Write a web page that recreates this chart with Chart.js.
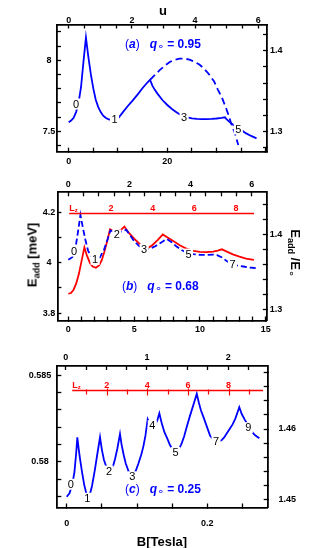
<!DOCTYPE html>
<html><head><meta charset="utf-8">
<script src="https://cdn.jsdelivr.net/npm/chart.js@4/dist/chart.umd.min.js"></script>
<style>
html,body{margin:0;padding:0;background:#fff;}
body{width:327px;height:548px;position:relative;overflow:hidden;font-family:"Liberation Sans",Arial,Helvetica,sans-serif;}
canvas{position:absolute;left:0;display:block;}
.t{position:absolute;white-space:nowrap;font-weight:bold;color:#000;font-size:13px;line-height:15px;}
.rot{transform:translate(-50%,-50%) rotate(-90deg);}
.rotr{transform:translate(-50%,-50%) rotate(90deg);}
.ctr{transform:translate(-50%,-50%);}
.t sub{font-size:9px;vertical-align:-3px;line-height:0;}
.t .ring{font-family:"DejaVu Sans";font-size:11px;font-weight:normal;}
.cap{position:absolute;white-space:nowrap;color:#0000ff;font-size:12px;font-weight:bold;line-height:14px;}
.cap .p{font-weight:normal;}
.cap .o{font-family:"DejaVu Sans";font-size:11px;font-weight:normal;vertical-align:-2px;}
</style></head><body>
<canvas id="ca" width="327" height="172" style="top:0"></canvas>
<canvas id="cb" width="327" height="173" style="top:172px"></canvas>
<canvas id="cc" width="327" height="203" style="top:345px"></canvas>

<div class="t ctr" style="left:163px;top:10px;">u</div>
<div class="t ctr" style="left:162px;top:541px;">B[Tesla]</div>
<div class="t rot" style="left:32px;top:255px;">E<sub>add</sub> [meV]</div>
<div class="t rotr" style="left:295px;top:253px;">E<sub>add</sub> /E<sub class="ring">∘</sub></div>

<div class="cap" style="left:125px;top:37px;"><span class="p">(</span><i>a</i><span class="p">)</span>&nbsp;&nbsp;&nbsp;<i>q</i><span class="o">∘</span> = 0.95</div>
<div class="cap" style="left:122px;top:279px;"><span class="p">(</span><i>b</i><span class="p">)</span>&nbsp;&nbsp;&nbsp;<i>q</i><span class="o">∘</span> = 0.68</div>
<div class="cap" style="left:125px;top:482px;"><span class="p">(</span><i>c</i><span class="p">)</span>&nbsp;&nbsp;&nbsp;<i>q</i><span class="o">∘</span> = 0.25</div>

<script>
// ---------- Panel (a): q = 0.95 ----------
const aSolidB = [0,0.5,1,1.5,2,2.5,3,3.5,4,4.5,5,5.5,6,6.5,7,7.5,8,8.5,9,9.5,10,11,12,13,14,15,16,16.5,17,17.5,18,19,20,21,22,23,24,25,26,27,28,29,30,31,31.7,32,32.5,33,34,35,36,37,38.1];
const aSolidE = [7.563,7.575,7.595,7.635,7.70,7.81,7.99,8.16,8.02,7.90,7.80,7.72,7.67,7.635,7.61,7.595,7.585,7.58,7.578,7.58,7.59,7.635,7.678,7.718,7.76,7.805,7.845,7.862,7.82,7.79,7.765,7.72,7.685,7.655,7.63,7.61,7.597,7.59,7.587,7.585,7.585,7.587,7.59,7.594,7.598,7.585,7.57,7.555,7.53,7.508,7.485,7.467,7.45];
const aDashB = [16.5,17.5,18.5,19.5,20.5,21.5,22.5,23.5,24.5,25.5,26.5,27.5,28.5,29.5,30.3,31,31.5,32,32.5,33,33.7,34.4];
const aDashE = [7.862,7.898,7.932,7.962,7.988,8.004,8.012,8.012,8.004,7.99,7.97,7.94,7.90,7.85,7.79,7.744,7.70,7.655,7.605,7.55,7.486,7.404];
const aNumText = ['0','1','3','5'];
const aNumB = [1.48,9.29,23.4,34.4];
const aNumE = [7.692,7.58,7.60,7.516];
const aBottomLabels = [0,20];
const aTopLabels = [0,2,4,6];
const aLeftLabels = [7.5,8];
const aRightLabels = [1.3,1.4];

// ---------- Panel (b): q = 0.68 ----------
const bBlueB = [0,0.3,0.5,0.7,0.92,1.1,1.3,1.5,1.7,2.0,2.4,2.7,3.0,3.2,3.5,3.8,4.1,4.4,4.7,5.0,5.4,5.8,6.2,6.6,7.0,7.48,7.8,8.2,8.6,9.0,9.5,10.0,10.5,11.0,11.3,11.7,12.0,12.4,12.8,13.3,13.8,14.3];
const bBlueE = [4.012,4.022,4.045,4.11,4.189,4.14,4.09,4.048,4.028,4.017,4.021,4.05,4.095,4.128,4.122,4.12,4.125,4.13,4.108,4.085,4.065,4.055,4.055,4.065,4.078,4.094,4.083,4.065,4.05,4.04,4.034,4.031,4.031,4.032,4.03,4.02,4.008,3.995,3.989,3.985,3.981,3.978];
const bRedB = [0,0.2,0.4,0.6,0.8,1.0,1.22,1.4,1.65,1.85,2.1,2.35,2.55,2.75,2.95,3.17,3.4,3.68,4.0,4.26,4.6,5.0,5.5,5.96,6.4,6.8,7.18,7.6,8.0,8.5,9.0,9.5,10.0,10.5,11.0,11.35,11.67,12.0,12.5,13.0,13.5,14.1];
const bRedE = [3.877,3.880,3.893,3.918,3.955,4.005,4.061,4.03,3.998,3.985,3.98,3.99,4.011,4.045,4.085,4.132,4.126,4.123,4.13,4.143,4.118,4.095,4.07,4.055,4.07,4.09,4.112,4.098,4.085,4.068,4.055,4.047,4.043,4.042,4.044,4.048,4.053,4.045,4.033,4.024,4.016,4.011];
const bNumText = ['0','1','2','3','5','7'];
const bNumB = [0.43,2.03,3.68,5.76,9.13,12.47];
const bNumE = [4.046,4.013,4.11,4.053,4.034,3.994];
const bLzLabels = [2,4,6,8];
const bBottomLabels = [0,5,10,15];
const bTopLabels = [0,2,4,6];
const bLeftLabels = [3.8,4,4.2];
const bRightLabels = [1.3,1.4];

// ---------- Panel (c): q = 0.25 ----------
const cB = [0,0.004,0.008,0.011,0.0135,0.0151,0.017,0.019,0.022,0.025,0.028,0.030,0.033,0.036,0.040,0.043,0.0474,0.050,0.053,0.056,0.059,0.062,0.066,0.069,0.072,0.0758,0.078,0.081,0.084,0.088,0.092,0.095,0.098,0.102,0.106,0.109,0.112,0.1152,0.118,0.122,0.126,0.129,0.1318,0.135,0.139,0.143,0.147,0.151,0.155,0.159,0.163,0.167,0.171,0.175,0.179,0.182,0.185,0.188,0.191,0.1943,0.200,0.204,0.208,0.212,0.216,0.2205,0.224,0.228,0.232,0.236,0.240,0.2455,0.249,0.2536,0.258,0.2632,0.268,0.274];
const cE = [0.57798,0.57818,0.57870,0.57940,0.58050,0.58141,0.58075,0.58015,0.57935,0.57865,0.57815,0.57800,0.57812,0.57860,0.57952,0.58030,0.58141,0.58070,0.58010,0.57975,0.57955,0.57953,0.57975,0.58020,0.58075,0.58160,0.58100,0.58040,0.57990,0.57945,0.57925,0.57925,0.57945,0.57990,0.58040,0.58087,0.58150,0.58245,0.58220,0.58205,0.58215,0.58240,0.58279,0.58225,0.58170,0.58135,0.58095,0.58072,0.58062,0.58070,0.58100,0.58145,0.58205,0.58260,0.58312,0.58352,0.58392,0.58340,0.58295,0.58260,0.58195,0.58150,0.58130,0.58118,0.58115,0.58125,0.58140,0.58165,0.58190,0.58215,0.58250,0.58314,0.58275,0.58240,0.58210,0.58173,0.58152,0.58135];
const cNumText = ['0','1','2','3','4','5','7','9'];
const cNumB = [0.0057,0.0293,0.0602,0.0933,0.1218,0.155,0.2124,0.2583];
const cNumE = [0.5787,0.57789,0.57946,0.57913,0.58208,0.58054,0.58119,0.58196];
const cLzTicks = [1,2,3,4,5,6,7,8,9];
const cLzLabels = [2,4,6,8];
const cBottomLabels = [0,0.2];
const cTopLabels = [0,1,2];
const cLeftLabels = [0.58,0.585];
const cRightLabels = [1.45,1.46];

const FONT = '"Liberation Sans", Arial, Helvetica, sans-serif';
const BLUE = '#0000ff', RED = '#ff0000';

function pick(v, list){
  return list.find(l => Math.abs(l - v) < 1e-6 * Math.max(1, Math.abs(l)));
}
function linAxis(pos, min, max, step, labels, size, pad, cross){
  const horiz = pos === 'top' || pos === 'bottom';
  return {
    type:'linear', position:pos, min:min, max:max,
    afterFit(s){ if (horiz) s.height = size; else s.width = size; },
    border:{display:true, color:'#000', width:1.8},
    grid:{display:true, drawOnChartArea:false, drawTicks:true, tickLength:-4, tickWidth:1.3, color:'#000'},
    ticks:{stepSize:step, autoSkip:false, includeBounds:false, maxRotation:0, minRotation:0,
      padding:pad, crossAlign:cross || 'near', color:'#000',
      font:{family:FONT, size:9, weight:'bold'},
      callback:(v) => { const l = pick(v, labels); return l === undefined ? '' : String(l); }}
  };
}
function pts(xs, ys){ return xs.map((x,i) => ({x:x, y:ys[i]})); }

const decor = {
  id:'decor',
  afterDatasetsDraw(chart, args, o){
    const ctx = chart.ctx, xs = chart.scales.x, ys = chart.scales.y;
    ctx.save();
    if (o.lz){
      const lz = chart.scales.lz;
      const y0 = Math.round(ys.getPixelForValue(o.lz.at)) + 0.5;
      ctx.strokeStyle = RED; ctx.fillStyle = RED; ctx.lineWidth = 1.6;
      ctx.beginPath();
      ctx.moveTo(lz.getPixelForValue(o.lz.from), y0);
      ctx.lineTo(lz.getPixelForValue(o.lz.to), y0);
      ctx.stroke();
      ctx.lineWidth = 1.2;
      (o.lz.ticks || []).forEach(v => {
        const x = Math.round(lz.getPixelForValue(v)) + 0.5;
        const major = o.lz.labels.includes(v);
        ctx.beginPath(); ctx.moveTo(x, y0 - (major ? 2 : 1)); ctx.lineTo(x, y0 + (major ? 5 : 4)); ctx.stroke();
      });
      ctx.font = 'bold 9px ' + FONT; ctx.textAlign = 'center'; ctx.textBaseline = 'alphabetic';
      o.lz.labels.forEach(v => ctx.fillText(String(v), lz.getPixelForValue(v), y0 - 2.5));
      const xl = lz.getPixelForValue(o.lz.from);
      ctx.textAlign = 'left';
      ctx.fillText('L', xl, y0 - 2.5);
      const wL = ctx.measureText('L').width;
      ctx.font = 'bold 6px ' + FONT;
      ctx.fillText('z', xl + wL, y0 - 1.5);
    }
    if (o.nums){
      ctx.font = '11px ' + FONT; ctx.textAlign = 'center'; ctx.textBaseline = 'middle';
      o.nums.t.forEach((t, i) => {
        const px = xs.getPixelForValue(o.nums.x[i]), py = ys.getPixelForValue(o.nums.y[i]);
        const w = ctx.measureText(t).width;
        ctx.fillStyle = '#fff'; ctx.fillRect(px - w/2 - 1.5, py - 5.5, w + 3, 11);
        ctx.fillStyle = '#000'; ctx.fillText(t, px, py + 0.5);
      });
    }
    ctx.restore();
  }
};

function makeChart(id, datasets, scales, decorOpts){
  return new Chart(document.getElementById(id), {
    type:'line',
    data:{datasets:datasets},
    options:{
      responsive:false, animation:false, events:[],
      layout:{padding:0},
      elements:{point:{radius:0}, line:{tension:0}},
      plugins:{legend:{display:false}, tooltip:{enabled:false}, decor:decorOpts},
      scales:scales
    },
    plugins:[decor]
  });
}

// Panel (a)
makeChart('ca', [
  {data:pts(aSolidB, aSolidE), borderColor:BLUE, borderWidth:1.8, fill:false},
  {data:pts(aDashB, aDashE), borderColor:BLUE, borderWidth:1.8, borderDash:[7,4], fill:false}
], {
  x: linAxis('bottom', -2.37, 40.22, 5, aBottomLabels, 20.3, 8.4),
  x2: linAxis('top', -0.370, 6.275, 0.5, aTopLabels, 24.5, 3),
  y: linAxis('left', 7.356, 8.252, 0.1, aLeftLabels, 57, 5.8, 'center'),
  y2: linAxis('right', 1.2753, 1.4323, 0.02, aRightLabels, 60, 7)
}, {nums:{t:aNumText, x:aNumB, y:aNumE}});

// Panel (b)
makeChart('cb', [
  {data:pts(bBlueB, bBlueE), borderColor:BLUE, borderWidth:1.8, borderDash:[6,3], fill:false},
  {data:pts(bRedB, bRedE), borderColor:RED, borderWidth:1.8, fill:false}
], {
  x: linAxis('bottom', -0.83, 15.08, 1, bBottomLabels, 24.5, 8.1),
  x2: linAxis('top', -0.357, 6.493, 0.5, bTopLabels, 20.3, 5.9),
  y: linAxis('left', 3.7711, 4.2788, 0.1, bLeftLabels, 57.4, 6.2, 'center'),
  y2: linAxis('right', 1.2849, 1.4561, 0.02, bRightLabels, 60.2, 7),
  lz: {type:'linear', axis:'x', position:'bottom', display:false, min:-0.566, max:9.473}
}, {nums:{t:bNumText, x:bNumB, y:bNumE}, lz:{at:4.1956, from:0, to:8.86, labels:bLzLabels, ticks:[]}});

// Panel (c)
makeChart('cc', [
  {data:pts(cB, cE), borderColor:BLUE, borderWidth:1.8, fill:false}
], {
  x: linAxis('bottom', -0.01337, 0.2859, 0.05, cBottomLabels, 40.5, 14.4),
  x2: linAxis('top', -0.1033, 2.4846, 0.25, cTopLabels, 21, 6.9),
  y: linAxis('left', 0.577359, 0.58552, 0.001, cLeftLabels, 57.3, 10, 'center'),
  y2: linAxis('right', 1.4489, 1.46891, 0.002, cRightLabels, 59.3, 14.8),
  lz: {type:'linear', axis:'x', position:'bottom', display:false, min:-0.4335, max:9.931}
}, {nums:{t:cNumText, x:cNumB, y:cNumE}, lz:{at:0.584135, from:0.3, to:9.7, labels:cLzLabels, ticks:cLzTicks}});
</script>
</body></html>
